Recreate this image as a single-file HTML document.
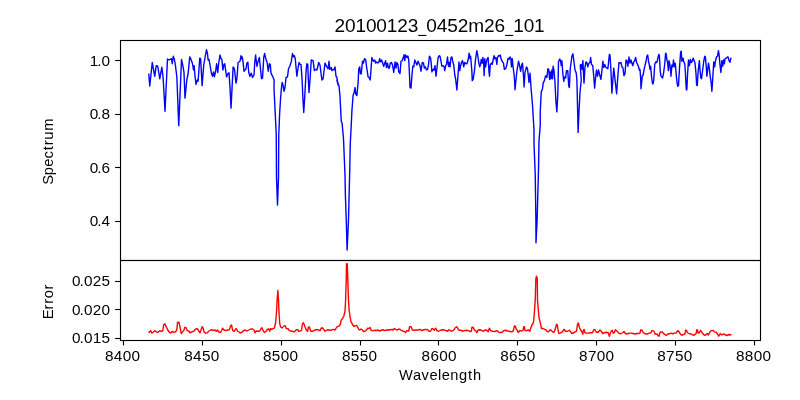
<!DOCTYPE html>
<html><head><meta charset="utf-8"><title>plot</title>
<style>
html,body{margin:0;padding:0;background:#fff;}
body{width:800px;height:400px;overflow:hidden;font-family:"Liberation Sans",sans-serif;}
svg{display:block;}
text{font-family:"Liberation Sans",sans-serif;fill:#000;}
</style></head><body>
<svg width="800" height="400" viewBox="0 0 800 400">
<rect x="0" y="0" width="800" height="400" fill="#ffffff"/>
<path d="M148.75,73.50 L149.75,86.00 L152.25,62.50 L154.75,76.25 L156.25,65.62 L157.75,66.25 L159.75,78.75 L161.88,67.25 L163.12,77.50 L165.00,111.25 L167.50,59.00 L169.00,60.00 L170.00,59.38 L171.50,58.75 L172.25,63.75 L173.25,56.25 L174.38,59.38 L175.38,65.00 L176.88,77.50 L178.75,125.62 L181.50,59.38 L183.12,66.88 L184.00,72.50 L185.00,98.12 L186.88,79.38 L188.12,73.75 L189.75,56.88 L191.25,60.00 L192.50,63.75 L193.50,70.00 L194.12,65.62 L195.00,76.25 L196.00,84.38 L197.25,80.00 L198.12,81.25 L199.75,58.12 L200.62,58.75 L202.12,85.62 L203.75,65.00 L205.25,56.25 L206.50,49.75 L207.50,53.75 L208.12,60.00 L209.00,59.38 L210.00,65.00 L211.50,73.75 L212.50,76.25 L213.50,71.88 L214.38,76.88 L215.62,71.25 L216.62,63.75 L217.75,72.50 L218.75,62.50 L220.00,55.00 L221.00,58.75 L221.88,59.38 L222.88,70.00 L224.00,64.38 L224.75,63.75 L225.62,70.00 L226.62,76.88 L227.88,73.75 L229.00,72.75 L230.00,87.50 L231.00,108.12 L233.12,66.88 L234.38,68.75 L236.00,83.12 L236.88,78.75 L238.12,62.50 L240.00,61.25 L241.00,55.62 L241.50,58.75 L242.25,56.88 L243.12,62.50 L244.00,71.25 L245.00,70.00 L246.00,68.75 L246.88,63.12 L247.88,62.25 L248.75,72.50 L250.00,76.25 L251.25,73.12 L252.50,77.50 L254.00,75.00 L254.75,62.50 L255.62,55.00 L256.88,66.25 L257.75,62.50 L259.38,57.50 L260.62,70.00 L261.50,78.75 L262.50,78.12 L263.75,57.50 L264.62,53.50 L265.88,58.75 L267.12,62.50 L268.25,71.25 L269.38,63.75 L270.25,64.38 L271.00,73.12 L272.25,75.62 L273.12,77.50 L274.12,80.00 L274.00,88.75 L274.75,103.75 L275.62,121.25 L276.25,135.00 L276.50,177.50 L277.50,205.00 L278.50,177.50 L278.75,135.00 L279.62,113.75 L280.62,97.50 L281.50,87.50 L282.12,82.50 L283.12,85.62 L284.00,91.25 L285.00,87.50 L286.00,77.50 L287.50,76.88 L288.50,68.75 L289.75,66.25 L291.25,61.88 L292.50,53.50 L293.50,56.88 L294.38,55.62 L295.25,58.75 L296.88,76.25 L297.75,70.00 L299.00,62.50 L300.00,64.38 L301.00,64.38 L302.12,80.00 L302.88,97.50 L303.75,112.50 L304.75,96.25 L306.25,68.75 L306.88,63.75 L307.75,64.38 L308.25,77.50 L309.00,92.50 L310.00,80.00 L311.25,60.00 L313.12,60.62 L314.38,70.62 L315.62,69.38 L316.88,70.00 L318.75,62.50 L320.00,65.00 L321.88,80.00 L323.12,78.75 L325.00,63.12 L326.88,66.88 L328.12,68.75 L329.00,61.25 L329.75,69.38 L331.25,67.50 L331.88,70.62 L333.12,69.38 L334.00,69.75 L335.00,66.88 L336.00,76.25 L336.88,77.50 L337.75,82.50 L338.75,85.62 L336.88,80.00 L338.12,85.00 L339.00,85.62 L340.00,96.25 L341.25,121.25 L342.25,123.75 L342.25,125.00 L343.50,138.75 L345.00,175.00 L345.38,195.00 L346.25,220.00 L347.12,250.00 L348.50,220.00 L349.12,195.00 L349.75,170.00 L350.25,143.75 L351.25,125.00 L351.88,111.25 L353.12,95.00 L354.00,93.12 L355.00,87.50 L355.88,94.38 L356.88,95.62 L358.12,82.50 L358.75,68.75 L359.75,66.88 L360.38,73.75 L361.25,73.75 L362.50,61.25 L363.50,63.12 L364.38,58.75 L365.62,59.38 L366.88,68.75 L368.12,76.88 L369.12,77.50 L370.25,80.00 L371.88,57.50 L372.75,60.00 L373.75,61.25 L374.75,60.00 L375.62,63.12 L376.62,61.88 L377.50,62.75 L378.75,62.50 L379.75,58.75 L380.62,61.88 L381.62,60.00 L382.50,62.50 L383.75,66.25 L384.75,63.12 L385.62,60.62 L386.50,67.50 L387.50,63.12 L388.50,68.12 L389.38,68.12 L390.25,63.12 L391.50,62.50 L392.50,65.00 L393.75,72.50 L395.00,61.88 L396.00,68.12 L396.88,62.50 L397.88,64.38 L398.75,71.88 L400.00,73.50 L401.00,61.25 L402.12,60.62 L403.12,58.12 L404.12,54.75 L404.75,60.62 L405.62,55.00 L406.88,57.50 L407.88,56.00 L408.75,60.00 L409.38,72.50 L410.00,87.50 L411.00,88.12 L411.88,76.25 L412.75,66.25 L413.75,66.88 L414.75,60.00 L415.88,62.50 L416.88,65.00 L418.12,61.25 L419.12,63.75 L420.00,65.62 L421.00,71.25 L422.25,62.50 L423.50,63.12 L424.38,68.12 L425.38,66.88 L426.50,70.00 L427.50,69.38 L428.50,65.00 L429.38,56.25 L430.62,58.12 L431.25,63.75 L431.88,71.88 L433.12,69.38 L434.00,70.00 L435.00,65.62 L436.00,76.25 L436.88,68.75 L438.12,57.50 L439.38,55.62 L440.00,56.25 L441.00,61.25 L441.88,66.25 L443.12,65.62 L444.12,66.88 L444.75,70.62 L445.62,65.62 L446.50,64.38 L447.50,56.88 L448.50,66.25 L449.38,62.50 L450.00,66.88 L451.00,57.50 L451.88,56.88 L452.88,61.88 L453.75,65.00 L454.75,75.00 L455.62,78.75 L456.88,90.00 L458.50,68.75 L459.00,61.88 L459.75,70.62 L460.38,66.88 L461.50,62.50 L462.50,60.62 L463.75,66.88 L464.62,62.50 L466.00,63.75 L466.88,63.75 L468.12,60.00 L469.12,53.12 L470.00,58.75 L470.62,56.25 L471.88,71.25 L472.25,80.62 L473.12,79.38 L474.38,71.25 L475.62,58.75 L476.88,50.62 L477.88,56.25 L478.75,62.50 L479.75,66.88 L480.62,64.38 L481.25,59.38 L482.12,63.12 L482.88,57.50 L483.75,65.00 L484.12,75.62 L484.75,58.75 L485.62,66.88 L486.50,61.25 L487.50,58.12 L488.12,57.50 L489.00,71.88 L489.50,76.25 L490.25,65.00 L491.25,63.12 L492.25,64.38 L493.12,60.00 L494.00,55.62 L495.00,58.75 L495.88,57.50 L496.88,64.38 L497.50,57.50 L498.50,55.62 L499.38,56.00 L500.25,55.00 L501.25,59.38 L502.50,61.88 L503.50,63.12 L504.38,69.38 L505.62,68.50 L506.50,66.25 L507.50,61.25 L508.12,58.12 L509.12,59.38 L510.00,56.88 L510.88,58.75 L511.50,66.88 L512.25,58.75 L513.12,67.50 L514.00,73.75 L514.62,81.25 L515.00,89.75 L516.88,71.25 L518.50,61.25 L519.38,64.38 L520.62,71.25 L521.88,64.38 L522.50,63.12 L523.50,76.25 L524.12,86.88 L525.00,72.50 L526.50,66.88 L527.50,68.75 L528.50,77.50 L529.00,82.50 L530.00,73.12 L530.62,81.25 L531.00,87.50 L532.50,105.00 L534.00,130.00 L534.00,143.75 L535.25,175.00 L535.88,220.00 L536.00,242.75 L537.12,220.00 L538.50,170.00 L539.00,141.25 L540.25,125.00 L540.25,111.25 L541.25,91.88 L542.50,88.75 L543.12,83.75 L543.12,83.12 L544.38,80.62 L545.25,76.88 L546.00,75.62 L546.88,77.50 L547.88,68.75 L548.75,69.38 L549.62,79.38 L550.25,71.88 L551.00,78.75 L551.88,70.00 L552.50,78.75 L553.12,66.25 L554.00,70.62 L555.00,82.50 L555.88,101.25 L556.88,111.88 L557.88,92.50 L558.50,61.88 L559.75,59.00 L560.62,61.25 L561.25,65.62 L561.88,60.62 L562.75,72.50 L563.75,81.25 L564.62,76.88 L565.62,78.12 L566.50,70.62 L567.75,70.62 L568.75,86.25 L569.38,87.50 L570.25,68.75 L571.88,56.25 L572.88,53.75 L573.75,60.00 L575.00,70.00 L576.25,73.12 L576.88,80.00 L577.50,105.00 L578.12,132.50 L579.00,111.25 L580.00,92.50 L581.25,80.00 L580.25,65.00 L581.25,64.38 L582.12,69.38 L582.88,60.62 L584.00,83.12 L585.00,66.88 L586.00,61.88 L586.88,62.50 L587.75,66.88 L589.00,63.12 L590.00,62.50 L590.62,57.50 L591.50,64.38 L592.75,65.62 L593.75,76.25 L594.62,88.12 L595.62,77.50 L596.50,70.00 L597.50,76.25 L598.50,70.00 L599.38,73.75 L600.88,79.38 L601.88,71.25 L602.88,61.25 L603.75,67.50 L604.75,64.38 L605.62,66.88 L606.88,68.12 L607.88,68.75 L609.38,54.38 L610.00,55.00 L611.00,71.25 L611.88,93.12 L613.75,68.12 L616.62,93.75 L617.75,77.50 L619.00,62.50 L620.00,63.12 L621.00,62.50 L621.88,66.88 L622.88,67.50 L624.00,75.62 L625.00,73.75 L626.00,60.00 L626.88,60.62 L627.88,66.25 L629.00,56.88 L630.00,63.12 L631.00,60.00 L631.88,63.12 L632.88,65.62 L633.75,61.88 L634.75,60.62 L635.62,57.50 L636.62,62.50 L637.50,64.38 L638.38,66.25 L639.38,70.00 L640.00,69.38 L640.62,77.50 L641.00,88.75 L642.25,76.25 L643.12,75.00 L644.38,68.12 L646.00,61.25 L646.88,56.25 L647.75,55.00 L648.50,61.25 L649.38,65.00 L650.00,69.38 L650.62,66.25 L651.50,76.25 L652.50,83.75 L653.12,83.75 L653.75,80.00 L654.75,64.38 L655.62,61.88 L656.88,62.50 L657.75,58.75 L658.75,54.38 L659.38,55.62 L660.25,71.25 L661.00,76.25 L661.88,76.88 L662.50,78.12 L663.50,73.75 L664.75,63.75 L665.62,53.12 L666.25,54.38 L666.88,60.00 L667.75,63.12 L668.38,70.62 L669.00,60.62 L669.75,63.75 L670.62,70.62 L671.00,76.25 L671.88,65.00 L672.75,66.88 L673.50,60.00 L674.38,66.88 L675.25,63.12 L676.25,75.00 L677.12,83.12 L677.88,86.25 L678.50,85.62 L679.38,70.00 L680.62,51.88 L681.25,51.25 L681.88,61.25 L683.12,58.12 L683.75,61.88 L684.75,63.75 L685.38,72.50 L686.25,88.75 L686.50,90.00 L686.88,89.38 L687.50,75.00 L688.50,60.00 L689.38,65.62 L690.38,59.38 L691.25,62.50 L692.25,61.25 L693.12,58.12 L694.38,61.25 L695.00,63.12 L696.00,73.75 L696.62,85.00 L697.25,85.62 L698.12,71.25 L699.38,60.62 L700.00,70.00 L700.88,78.12 L701.50,78.75 L702.50,71.25 L703.75,61.25 L704.75,56.25 L705.38,56.88 L706.25,66.25 L706.88,76.25 L707.50,71.25 L708.50,63.12 L709.38,68.75 L710.25,76.88 L711.25,83.12 L711.88,91.25 L712.50,82.50 L713.75,61.88 L714.62,66.88 L715.38,61.25 L716.50,56.88 L717.50,56.25 L718.38,50.62 L719.00,53.75 L720.00,65.00 L720.88,72.50 L721.88,60.62 L722.75,66.25 L723.50,60.00 L724.38,63.75 L725.00,58.75 L726.25,58.12 L727.50,56.88 L728.12,56.88 L729.00,60.62 L730.00,62.25 L730.88,58.12 L731.50,58.12" fill="none" stroke="#0000ff" stroke-width="1.4" stroke-linejoin="round" stroke-linecap="butt"/>
<path d="M148.50,331.88 L149.38,332.25 L150.62,330.62 L151.88,333.12 L153.12,332.25 L154.75,330.62 L156.25,331.88 L158.12,332.25 L159.75,330.62 L161.25,331.25 L162.75,331.00 L163.75,324.38 L165.00,324.00 L166.25,326.88 L167.75,330.00 L169.38,332.25 L170.62,333.12 L172.25,331.50 L173.75,332.25 L175.62,331.88 L176.88,329.38 L177.50,322.50 L179.00,322.25 L180.00,326.88 L181.25,333.50 L182.50,331.88 L183.75,330.62 L184.75,327.50 L186.00,327.50 L187.25,330.62 L188.75,331.00 L190.00,332.75 L191.88,331.88 L193.75,331.25 L195.00,329.75 L196.25,328.75 L197.75,329.00 L198.75,331.25 L200.00,332.75 L201.00,330.00 L202.12,326.62 L203.12,328.12 L204.00,331.88 L205.62,333.12 L206.88,333.12 L208.75,331.25 L210.62,330.00 L212.25,329.75 L213.75,330.62 L215.00,330.00 L216.25,331.25 L217.50,330.00 L219.00,332.25 L220.62,332.25 L221.88,330.00 L222.50,328.12 L223.75,329.75 L225.62,330.62 L227.50,330.00 L229.38,329.75 L230.62,325.62 L231.50,325.00 L232.75,330.62 L234.38,331.25 L235.62,329.00 L236.50,328.75 L237.75,331.25 L240.00,332.50 L240.00,333.12 L241.88,332.25 L243.75,330.62 L245.25,330.00 L246.88,331.00 L248.75,330.00 L250.62,329.00 L252.50,329.00 L254.00,330.00 L255.00,332.75 L256.25,331.00 L258.12,331.25 L259.75,331.00 L261.00,328.75 L261.88,327.75 L263.12,330.62 L264.38,332.50 L266.00,331.50 L267.25,329.75 L268.50,328.75 L269.75,331.25 L270.62,328.50 L271.88,329.38 L273.12,328.50 L274.38,328.12 L275.62,322.50 L276.50,312.50 L277.12,300.00 L277.88,290.50 L278.50,300.00 L279.00,312.50 L279.75,323.75 L280.62,326.88 L281.88,328.12 L283.12,326.88 L284.38,325.62 L285.25,325.62 L286.25,328.50 L288.12,328.75 L289.38,330.62 L291.25,331.00 L293.12,331.50 L294.38,331.88 L296.25,329.75 L297.75,329.75 L298.75,331.25 L300.62,331.00 L301.50,330.00 L302.50,323.75 L303.50,322.75 L304.75,326.25 L306.25,330.00 L307.50,331.25 L308.50,326.88 L309.38,326.88 L310.62,331.00 L311.88,331.50 L313.75,330.62 L315.62,329.75 L317.50,329.75 L320.00,330.62 L321.25,328.12 L322.25,327.75 L323.75,329.38 L325.00,331.25 L327.50,329.75 L329.38,330.25 L331.25,330.00 L333.75,329.38 L335.00,330.00 L336.88,326.88 L338.75,326.25 L340.00,325.00 L341.25,320.00 L342.50,318.75 L343.75,316.25 L345.00,311.25 L345.62,300.00 L346.25,280.00 L346.50,263.62 L347.25,263.88 L347.75,277.50 L348.50,300.00 L349.12,310.00 L350.00,316.25 L351.00,321.88 L351.88,323.12 L352.75,325.00 L354.00,326.50 L355.25,325.62 L356.50,325.38 L357.50,326.88 L358.75,329.38 L359.75,330.00 L361.00,329.00 L362.25,329.75 L363.50,331.50 L365.00,331.25 L366.50,330.00 L367.75,328.12 L369.00,328.50 L370.25,327.50 L371.25,330.62 L373.12,330.62 L375.00,330.25 L376.88,330.62 L377.75,329.75 L379.38,331.00 L381.25,330.25 L383.12,329.75 L385.00,330.62 L386.88,330.00 L388.50,329.75 L390.00,330.00 L391.88,329.38 L393.12,330.00 L394.38,328.50 L395.62,329.38 L397.25,330.00 L398.75,329.00 L400.00,329.38 L401.25,330.25 L402.50,331.00 L404.00,331.25 L405.62,332.50 L406.88,330.62 L408.75,331.00 L409.50,326.88 L411.00,326.50 L412.25,329.75 L413.75,330.25 L416.25,330.00 L418.12,330.00 L420.00,329.38 L421.88,330.62 L423.75,329.75 L425.62,329.38 L427.50,329.75 L429.00,331.25 L430.62,331.00 L431.88,328.50 L433.12,329.00 L434.38,330.25 L435.62,328.12 L436.88,330.62 L438.75,331.25 L440.62,330.25 L442.50,329.75 L444.38,330.00 L446.25,330.62 L447.50,331.25 L449.00,329.75 L450.62,330.62 L451.88,331.25 L453.50,330.25 L455.00,328.12 L456.50,326.62 L457.50,327.75 L458.50,330.00 L460.62,330.25 L462.50,331.00 L464.38,330.62 L466.25,330.25 L468.12,330.62 L470.00,331.50 L471.25,331.25 L472.00,327.25 L473.12,327.25 L474.38,330.00 L475.62,330.62 L476.88,332.75 L478.12,330.00 L480.00,329.75 L481.88,330.62 L483.50,331.25 L485.00,330.00 L486.88,330.25 L488.12,331.88 L489.38,328.12 L490.62,330.62 L492.50,331.25 L495.00,331.50 L496.88,330.62 L498.75,332.25 L500.62,332.50 L502.25,332.25 L503.50,330.62 L505.62,330.25 L507.50,331.00 L509.38,331.25 L511.25,331.88 L513.12,331.25 L514.38,326.00 L515.38,326.25 L516.25,329.38 L517.25,330.00 L518.12,332.50 L519.38,331.00 L520.00,330.62 L521.25,331.00 L522.88,330.62 L523.75,326.88 L524.38,326.62 L525.00,330.62 L526.88,330.62 L528.12,329.75 L529.75,331.25 L531.00,327.50 L532.25,324.38 L533.50,322.50 L534.38,312.50 L535.25,300.00 L535.88,278.50 L536.50,276.25 L537.25,278.50 L537.50,300.00 L538.12,307.50 L539.00,317.50 L539.75,320.62 L540.62,324.38 L541.50,328.50 L543.12,328.50 L544.75,329.38 L546.00,330.00 L547.50,331.88 L548.75,331.50 L550.00,330.00 L551.25,330.25 L552.50,331.88 L554.00,332.25 L555.00,330.00 L556.50,324.38 L557.25,324.75 L558.12,330.00 L558.75,333.50 L560.25,333.12 L561.50,332.25 L562.50,331.88 L563.50,329.75 L564.38,329.38 L565.25,331.25 L567.50,331.25 L569.38,330.25 L570.62,331.88 L571.88,333.50 L573.75,332.75 L575.00,331.88 L576.50,331.25 L577.50,324.38 L578.38,322.88 L579.38,327.50 L580.62,330.00 L581.88,331.88 L582.75,334.38 L583.50,330.00 L584.12,329.38 L585.00,332.75 L586.88,333.12 L588.75,333.12 L590.62,332.75 L592.50,332.75 L593.75,329.75 L595.00,329.75 L596.25,332.25 L598.12,332.25 L600.00,330.00 L601.25,331.25 L602.75,333.50 L604.38,332.75 L606.25,332.25 L608.12,332.75 L609.38,336.25 L610.62,331.88 L612.25,330.25 L613.12,333.12 L614.38,332.50 L615.38,329.75 L616.88,331.00 L618.75,333.12 L620.62,333.75 L622.50,332.75 L624.00,331.50 L625.62,333.75 L627.50,333.75 L629.38,333.12 L631.25,333.12 L633.12,333.50 L635.00,334.00 L636.88,333.50 L638.75,333.50 L640.00,333.12 L640.62,330.00 L641.88,330.00 L643.12,332.50 L645.00,333.75 L647.25,334.00 L649.38,333.12 L651.00,332.75 L651.88,330.62 L653.12,330.62 L654.38,331.88 L655.00,334.00 L656.88,334.00 L658.12,335.62 L659.00,336.25 L660.00,332.25 L661.25,331.88 L662.50,332.25 L663.75,333.75 L665.00,334.38 L666.25,335.62 L668.12,333.75 L669.38,334.00 L671.00,333.12 L672.50,333.75 L674.38,333.12 L676.00,333.12 L677.25,331.25 L678.12,330.62 L679.38,332.50 L680.62,334.38 L681.88,335.25 L683.75,334.38 L685.00,333.75 L685.62,330.25 L686.50,330.25 L687.50,332.75 L689.38,333.75 L691.25,334.00 L693.12,335.25 L694.75,334.75 L696.00,333.75 L696.88,329.75 L697.50,330.00 L698.12,333.12 L699.38,332.75 L700.00,331.25 L700.62,330.25 L701.88,332.25 L703.12,334.00 L704.38,335.25 L706.00,334.75 L707.25,333.50 L708.50,335.00 L709.75,332.25 L711.25,330.62 L713.12,330.38 L714.38,331.88 L716.25,332.25 L717.50,334.00 L718.75,336.25 L720.25,333.50 L721.88,335.00 L723.50,334.00 L725.25,334.75 L727.25,335.62 L728.75,334.38 L730.00,335.00 L731.50,334.38" fill="none" stroke="#ff0000" stroke-width="1.4" stroke-linejoin="round" stroke-linecap="butt"/>
<g fill="none" stroke="#000" stroke-width="1.11" stroke-linejoin="miter"><rect x="120.5" y="40.5" width="640" height="220"/><rect x="120.5" y="260.5" width="640" height="80"/></g>
<g stroke="#000" stroke-width="1.11"><line x1="123.5" y1="340.5" x2="123.5" y2="345.5"/><line x1="202.5" y1="340.5" x2="202.5" y2="345.5"/><line x1="281.5" y1="340.5" x2="281.5" y2="345.5"/><line x1="360.5" y1="340.5" x2="360.5" y2="345.5"/><line x1="438.5" y1="340.5" x2="438.5" y2="345.5"/><line x1="517.5" y1="340.5" x2="517.5" y2="345.5"/><line x1="596.5" y1="340.5" x2="596.5" y2="345.5"/><line x1="675.5" y1="340.5" x2="675.5" y2="345.5"/><line x1="754.5" y1="340.5" x2="754.5" y2="345.5"/><line x1="115.1" y1="60.5" x2="120.5" y2="60.5"/><line x1="115.1" y1="114.5" x2="120.5" y2="114.5"/><line x1="115.1" y1="167.5" x2="120.5" y2="167.5"/><line x1="115.1" y1="221.5" x2="120.5" y2="221.5"/><line x1="115.1" y1="281.5" x2="120.5" y2="281.5"/><line x1="115.1" y1="309.5" x2="120.5" y2="309.5"/><line x1="115.1" y1="338.5" x2="120.5" y2="338.5"/></g>
<g opacity="0.999"><text transform="translate(109.25,360.6) scale(1.08,1)" text-anchor="middle" font-size="14.2">8</text><text transform="translate(118.08,360.6) scale(1.08,1)" text-anchor="middle" font-size="14.2">4</text><text transform="translate(126.92,360.6) scale(1.08,1)" text-anchor="middle" font-size="14.2">0</text><text transform="translate(135.75,360.6) scale(1.08,1)" text-anchor="middle" font-size="14.2">0</text><text transform="translate(188.55,360.6) scale(1.08,1)" text-anchor="middle" font-size="14.2">8</text><text transform="translate(197.38,360.6) scale(1.08,1)" text-anchor="middle" font-size="14.2">4</text><text transform="translate(206.22,360.6) scale(1.08,1)" text-anchor="middle" font-size="14.2">5</text><text transform="translate(215.05,360.6) scale(1.08,1)" text-anchor="middle" font-size="14.2">0</text><text transform="translate(267.25,360.6) scale(1.08,1)" text-anchor="middle" font-size="14.2">8</text><text transform="translate(276.08,360.6) scale(1.08,1)" text-anchor="middle" font-size="14.2">5</text><text transform="translate(284.92,360.6) scale(1.08,1)" text-anchor="middle" font-size="14.2">0</text><text transform="translate(293.75,360.6) scale(1.08,1)" text-anchor="middle" font-size="14.2">0</text><text transform="translate(346.25,360.6) scale(1.08,1)" text-anchor="middle" font-size="14.2">8</text><text transform="translate(355.08,360.6) scale(1.08,1)" text-anchor="middle" font-size="14.2">5</text><text transform="translate(363.92,360.6) scale(1.08,1)" text-anchor="middle" font-size="14.2">5</text><text transform="translate(372.75,360.6) scale(1.08,1)" text-anchor="middle" font-size="14.2">0</text><text transform="translate(425.85,360.6) scale(1.08,1)" text-anchor="middle" font-size="14.2">8</text><text transform="translate(434.68,360.6) scale(1.08,1)" text-anchor="middle" font-size="14.2">6</text><text transform="translate(443.52,360.6) scale(1.08,1)" text-anchor="middle" font-size="14.2">0</text><text transform="translate(452.35,360.6) scale(1.08,1)" text-anchor="middle" font-size="14.2">0</text><text transform="translate(504.55,360.6) scale(1.08,1)" text-anchor="middle" font-size="14.2">8</text><text transform="translate(513.38,360.6) scale(1.08,1)" text-anchor="middle" font-size="14.2">6</text><text transform="translate(522.22,360.6) scale(1.08,1)" text-anchor="middle" font-size="14.2">5</text><text transform="translate(531.05,360.6) scale(1.08,1)" text-anchor="middle" font-size="14.2">0</text><text transform="translate(583.35,360.6) scale(1.08,1)" text-anchor="middle" font-size="14.2">8</text><text transform="translate(592.18,360.6) scale(1.08,1)" text-anchor="middle" font-size="14.2">7</text><text transform="translate(601.02,360.6) scale(1.08,1)" text-anchor="middle" font-size="14.2">0</text><text transform="translate(609.85,360.6) scale(1.08,1)" text-anchor="middle" font-size="14.2">0</text><text transform="translate(661.55,360.6) scale(1.08,1)" text-anchor="middle" font-size="14.2">8</text><text transform="translate(670.38,360.6) scale(1.08,1)" text-anchor="middle" font-size="14.2">7</text><text transform="translate(679.22,360.6) scale(1.08,1)" text-anchor="middle" font-size="14.2">5</text><text transform="translate(688.05,360.6) scale(1.08,1)" text-anchor="middle" font-size="14.2">0</text><text transform="translate(740.25,360.6) scale(1.08,1)" text-anchor="middle" font-size="14.2">8</text><text transform="translate(749.08,360.6) scale(1.08,1)" text-anchor="middle" font-size="14.2">8</text><text transform="translate(757.92,360.6) scale(1.08,1)" text-anchor="middle" font-size="14.2">0</text><text transform="translate(766.75,360.6) scale(1.08,1)" text-anchor="middle" font-size="14.2">0</text><text transform="translate(93.93,65.9) scale(1.08,1)" text-anchor="middle" font-size="14.2">1</text><text transform="translate(99.26,65.9) scale(1.08,1)" text-anchor="middle" font-size="14.2">.</text><text transform="translate(105.88,65.9) scale(1.08,1)" text-anchor="middle" font-size="14.2">0</text><text transform="translate(93.93,118.9) scale(1.08,1)" text-anchor="middle" font-size="14.2">0</text><text transform="translate(99.26,118.9) scale(1.08,1)" text-anchor="middle" font-size="14.2">.</text><text transform="translate(105.88,118.9) scale(1.08,1)" text-anchor="middle" font-size="14.2">8</text><text transform="translate(93.93,172.9) scale(1.08,1)" text-anchor="middle" font-size="14.2">0</text><text transform="translate(99.26,172.9) scale(1.08,1)" text-anchor="middle" font-size="14.2">.</text><text transform="translate(105.88,172.9) scale(1.08,1)" text-anchor="middle" font-size="14.2">6</text><text transform="translate(93.93,225.9) scale(1.08,1)" text-anchor="middle" font-size="14.2">0</text><text transform="translate(99.26,225.9) scale(1.08,1)" text-anchor="middle" font-size="14.2">.</text><text transform="translate(105.88,225.9) scale(1.08,1)" text-anchor="middle" font-size="14.2">4</text><text transform="translate(76.26,285.9) scale(1.08,1)" text-anchor="middle" font-size="14.2">0</text><text transform="translate(81.59,285.9) scale(1.08,1)" text-anchor="middle" font-size="14.2">.</text><text transform="translate(88.21,285.9) scale(1.08,1)" text-anchor="middle" font-size="14.2">0</text><text transform="translate(97.05,285.9) scale(1.08,1)" text-anchor="middle" font-size="14.2">2</text><text transform="translate(105.88,285.9) scale(1.08,1)" text-anchor="middle" font-size="14.2">5</text><text transform="translate(76.26,314.9) scale(1.08,1)" text-anchor="middle" font-size="14.2">0</text><text transform="translate(81.59,314.9) scale(1.08,1)" text-anchor="middle" font-size="14.2">.</text><text transform="translate(88.21,314.9) scale(1.08,1)" text-anchor="middle" font-size="14.2">0</text><text transform="translate(97.05,314.9) scale(1.08,1)" text-anchor="middle" font-size="14.2">2</text><text transform="translate(105.88,314.9) scale(1.08,1)" text-anchor="middle" font-size="14.2">0</text><text transform="translate(76.26,342.9) scale(1.08,1)" text-anchor="middle" font-size="14.2">0</text><text transform="translate(81.59,342.9) scale(1.08,1)" text-anchor="middle" font-size="14.2">.</text><text transform="translate(88.21,342.9) scale(1.08,1)" text-anchor="middle" font-size="14.2">0</text><text transform="translate(97.05,342.9) scale(1.08,1)" text-anchor="middle" font-size="14.2">1</text><text transform="translate(105.88,342.9) scale(1.08,1)" text-anchor="middle" font-size="14.2">5</text><text transform="translate(339.90,32) scale(1.06,1)" text-anchor="middle" font-size="18">2</text><text transform="translate(350.34,32) scale(1.06,1)" text-anchor="middle" font-size="18">0</text><text transform="translate(360.78,32) scale(1.06,1)" text-anchor="middle" font-size="18">1</text><text transform="translate(371.23,32) scale(1.06,1)" text-anchor="middle" font-size="18">0</text><text transform="translate(381.67,32) scale(1.06,1)" text-anchor="middle" font-size="18">0</text><text transform="translate(392.11,32) scale(1.06,1)" text-anchor="middle" font-size="18">1</text><text transform="translate(402.56,32) scale(1.06,1)" text-anchor="middle" font-size="18">2</text><text transform="translate(413.00,32) scale(1.06,1)" text-anchor="middle" font-size="18">3</text><rect x="418.22" y="34.90" width="8.21" height="1.1" fill="#000"/><text transform="translate(431.65,32) scale(1.06,1)" text-anchor="middle" font-size="18">0</text><text transform="translate(442.10,32) scale(1.06,1)" text-anchor="middle" font-size="18">4</text><text transform="translate(452.54,32) scale(1.06,1)" text-anchor="middle" font-size="18">5</text><text transform="translate(462.98,32) scale(1.06,1)" text-anchor="middle" font-size="18">2</text><text transform="translate(476.20,32) scale(1.06,1)" text-anchor="middle" font-size="18">m</text><text transform="translate(489.42,32) scale(1.06,1)" text-anchor="middle" font-size="18">2</text><text transform="translate(499.86,32) scale(1.06,1)" text-anchor="middle" font-size="18">6</text><rect x="505.08" y="34.90" width="8.21" height="1.1" fill="#000"/><text transform="translate(518.52,32) scale(1.06,1)" text-anchor="middle" font-size="18">1</text><text transform="translate(528.96,32) scale(1.06,1)" text-anchor="middle" font-size="18">0</text><text transform="translate(539.40,32) scale(1.06,1)" text-anchor="middle" font-size="18">1</text><text transform="translate(406.00,380) scale(1.03,1)" text-anchor="middle" font-size="14.2">W</text><text transform="translate(416.97,380) scale(1.03,1)" text-anchor="middle" font-size="14.2">a</text><text transform="translate(425.22,380) scale(1.03,1)" text-anchor="middle" font-size="14.2">v</text><text transform="translate(433.49,380) scale(1.03,1)" text-anchor="middle" font-size="14.2">e</text><text transform="translate(439.61,380) scale(1.03,1)" text-anchor="middle" font-size="14.2">l</text><text transform="translate(445.73,380) scale(1.03,1)" text-anchor="middle" font-size="14.2">e</text><text transform="translate(454.28,380) scale(1.03,1)" text-anchor="middle" font-size="14.2">n</text><text transform="translate(462.97,380) scale(1.03,1)" text-anchor="middle" font-size="14.2">g</text><text transform="translate(470.01,380) scale(1.03,1)" text-anchor="middle" font-size="14.2">t</text><text transform="translate(477.04,380) scale(1.03,1)" text-anchor="middle" font-size="14.2">h</text><g transform="translate(53,184.3) rotate(-90)"><text transform="translate(4.35,0) scale(1.04,1)" text-anchor="middle" font-size="14.2">S</text><text transform="translate(13.05,0) scale(1.04,1)" text-anchor="middle" font-size="14.2">p</text><text transform="translate(21.61,0) scale(1.04,1)" text-anchor="middle" font-size="14.2">e</text><text transform="translate(29.59,0) scale(1.04,1)" text-anchor="middle" font-size="14.2">c</text><text transform="translate(36.04,0) scale(1.04,1)" text-anchor="middle" font-size="14.2">t</text><text transform="translate(41.55,0) scale(1.04,1)" text-anchor="middle" font-size="14.2">r</text><text transform="translate(48.70,0) scale(1.04,1)" text-anchor="middle" font-size="14.2">u</text><text transform="translate(59.72,0) scale(1.04,1)" text-anchor="middle" font-size="14.2">m</text></g><g transform="translate(53,318.7) rotate(-90)"><text transform="translate(4.39,0) scale(1.04,1)" text-anchor="middle" font-size="14.2">E</text><text transform="translate(11.63,0) scale(1.04,1)" text-anchor="middle" font-size="14.2">r</text><text transform="translate(17.34,0) scale(1.04,1)" text-anchor="middle" font-size="14.2">r</text><text transform="translate(24.45,0) scale(1.04,1)" text-anchor="middle" font-size="14.2">o</text><text transform="translate(31.55,0) scale(1.04,1)" text-anchor="middle" font-size="14.2">r</text></g></g>
</svg>
</body></html>
